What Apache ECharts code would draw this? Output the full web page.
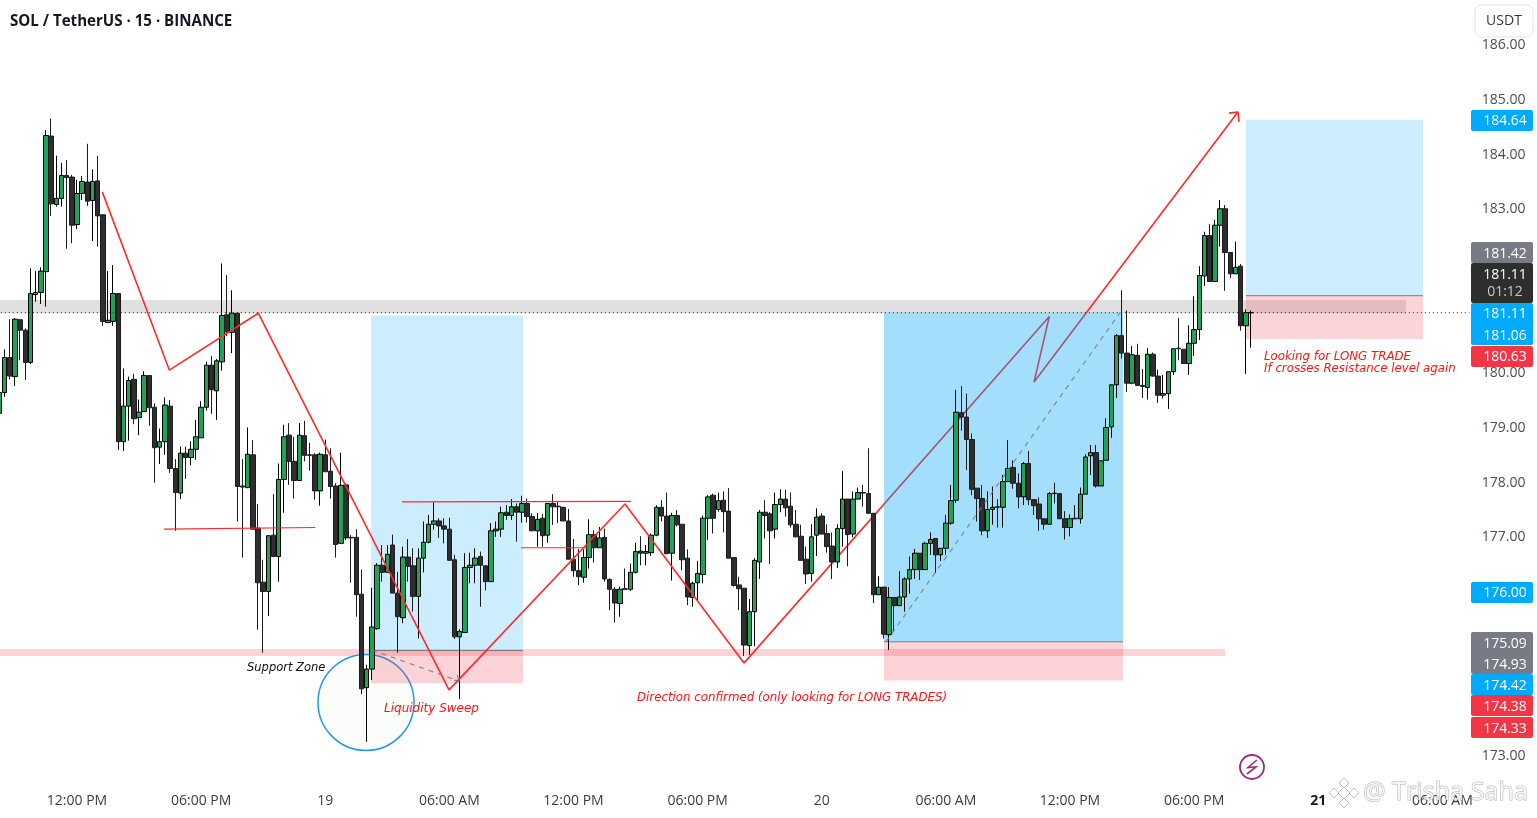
<!DOCTYPE html>
<html><head><meta charset="utf-8">
<style>html,body{margin:0;padding:0;background:#fff}#c{width:1537px;height:818px}</style>
<script src="https://cdn.jsdelivr.net/npm/echarts@6/dist/echarts.min.js"></script>
</head><body><div id="c"></div>
<script>
const slotCount = 285;
const firstTickSlot = 15;
const slotsPerTick = 24;
const tickLabels = ['12:00 PM','06:00 PM','19','06:00 AM','12:00 PM','06:00 PM','20','06:00 AM','12:00 PM','06:00 PM','21','06:00 AM'];
const priceTicks = [186,185,184,183,180,179,178,177,173];

// open, close, low, high
const ohlc = [
[179.27,179.65,179.15,179.70],[179.65,180.29,179.57,180.44],[180.29,179.95,179.89,180.99],[179.94,180.99,179.77,181.01],[180.98,180.79,180.24,180.99],
[180.79,180.20,179.88,180.82],[180.20,181.46,180.17,181.92],[181.44,181.48,181.31,181.87],[181.48,181.87,181.27,181.94],[181.86,184.35,181.22,184.45],
[184.34,183.10,182.88,184.66],[183.09,183.20,183.05,183.98],[183.20,183.62,183.05,183.85],[183.62,183.58,182.28,183.90],[183.59,182.71,182.38,183.63],
[182.72,183.29,182.64,183.54],[183.29,183.51,183.17,183.61],[183.50,183.15,183.06,184.20],[183.16,183.51,182.42,183.73],[183.52,182.88,182.32,183.98],
[182.90,180.95,180.87,182.91],[180.93,180.97,180.93,181.87],[180.95,181.46,180.87,181.98],[181.46,178.75,178.60,181.46],[178.75,179.40,178.58,180.09],
[179.40,179.87,178.77,179.94],[179.89,179.17,179.07,179.99],[179.19,179.29,178.87,179.52],[179.30,179.96,179.30,180.04],[179.96,179.37,179.04,179.96],
[179.38,178.64,178.00,179.45],[178.65,178.75,178.34,178.99],[178.75,179.42,178.51,179.56],[179.40,178.26,178.18,179.51],[178.26,177.82,177.12,178.43],
[177.81,178.54,177.70,178.66],[178.54,178.46,178.07,178.66],[178.46,178.61,178.32,178.76],[178.61,178.84,178.42,179.15],[178.82,179.38,178.82,179.49],
[179.38,180.15,179.32,180.21],[180.15,179.70,179.26,180.32],[179.68,180.23,179.15,180.26],[180.21,181.06,180.05,182.01],[181.07,180.76,180.68,181.80],
[180.75,181.10,180.37,181.52],[181.10,177.93,177.29,181.10],[177.94,177.92,176.63,178.43],[177.91,178.52,177.90,179.01],[178.51,177.15,177.15,178.78],
[177.17,176.17,175.31,177.61],[176.18,176.01,174.89,176.59],[176.01,177.03,175.56,177.04],[177.04,176.65,176.65,177.79],[176.65,178.06,176.19,178.35],
[178.06,178.84,177.45,179.06],[178.87,178.39,177.96,179.09],[178.39,178.04,177.71,178.84],[178.04,178.87,178.04,179.09],[178.86,178.50,178.39,179.13],
[178.51,178.50,178.22,178.73],[178.51,177.85,177.69,178.54],[177.85,178.52,177.58,178.55],[178.51,178.20,178.20,178.79],[178.21,177.93,177.71,178.63],
[177.94,176.87,176.63,177.99],[176.89,177.95,176.88,178.55],[177.96,176.99,176.95,177.99],[177.00,176.99,176.17,177.04],[177.00,175.95,175.55,177.15],
[175.96,174.23,174.13,176.41],[174.25,174.59,173.26,174.67],[174.59,175.36,174.39,176.08],[175.33,176.49,175.31,176.53],[176.49,176.36,176.19,176.86],
[176.36,176.69,176.36,176.86],[176.86,175.98,175.98,177.05],[175.98,175.55,174.89,176.37],[175.53,176.64,175.43,176.83],[176.64,176.47,176.19,176.97],
[176.48,175.92,175.64,176.80],[175.92,176.62,175.15,176.80],[176.62,176.91,176.36,177.29],[176.91,177.24,176.89,177.41],[177.24,177.30,177.14,177.64],
[177.30,177.21,176.99,177.35],[177.21,177.15,176.89,177.35],[177.15,176.58,176.58,177.36],[176.59,175.18,175.14,176.68],[175.18,175.28,174.04,175.32],
[175.26,176.45,175.26,176.71],[176.45,176.49,176.16,176.72],[176.49,176.62,176.16,176.80],[176.65,176.49,175.73,176.74],[176.48,176.19,176.03,176.48],
[176.19,177.12,176.19,177.26],[177.12,177.15,177.01,177.29],[177.15,177.45,177.01,177.56],[177.46,177.40,177.32,177.59],[177.40,177.56,177.32,177.70],
[177.56,177.46,176.92,177.62],[177.46,177.62,177.27,177.76],[177.62,177.38,177.27,177.71],[177.38,177.12,177.12,177.44],[177.12,177.33,176.83,177.44],
[177.35,177.03,176.83,177.43],[177.04,177.62,176.90,177.63],[177.62,177.56,177.23,177.79],[177.57,177.56,177.26,177.65],[177.55,177.30,177.30,177.56],
[177.30,176.60,176.60,177.52],[176.60,176.39,176.28,176.97],[176.39,176.28,176.13,176.79],[176.27,176.63,176.17,176.78],[176.63,177.05,176.43,177.33],
[177.05,176.81,176.54,177.13],[176.81,176.99,176.81,177.19],[177.00,176.24,176.19,177.16],[176.23,176.05,175.67,176.25],[176.05,175.80,175.44,176.09],
[175.79,176.05,175.55,176.10],[176.06,176.05,176.05,176.43],[176.05,176.36,176.02,176.52],[176.36,176.74,176.34,176.90],[176.75,176.71,176.49,177.02],
[176.71,176.74,176.49,176.86],[176.72,177.04,176.66,177.07],[177.04,177.55,177.02,177.59],[177.55,177.39,177.29,177.68],[177.39,176.70,176.70,177.82],
[176.71,177.40,176.21,177.45],[177.40,177.23,177.20,177.50],[177.24,176.59,176.40,177.24],[176.62,175.91,175.76,176.78],[175.90,176.16,175.73,176.19],
[176.17,176.34,175.84,176.57],[176.32,177.35,176.16,177.40],[177.35,177.74,176.95,177.77],[177.77,177.35,177.07,177.80],[177.51,177.67,177.47,177.82],
[177.68,177.47,177.09,177.84],[177.48,176.62,176.62,177.90],[176.63,176.12,176.10,176.63],[176.13,176.06,175.67,176.28],[176.07,175.03,174.83,176.07],
[175.02,175.64,174.85,175.87],[175.64,176.58,175.01,176.62],[176.55,177.46,176.24,177.50],[177.46,177.40,176.98,177.68],[177.43,177.12,176.51,177.46],
[177.15,177.60,176.98,177.82],[177.60,177.70,177.46,177.88],[177.70,177.54,177.38,177.87],[177.57,177.23,177.18,177.82],[177.24,177.01,177.00,177.50],
[177.02,176.58,176.58,177.23],[176.60,176.33,176.15,176.83],[176.34,177.01,176.19,177.24],[177.04,177.37,176.66,177.53],[177.39,177.06,177.06,177.44],
[177.07,176.83,176.72,177.24],[176.84,176.55,176.24,177.09],[176.55,177.16,176.44,177.24],[177.16,177.70,176.83,178.21],[177.70,177.05,176.47,177.70],
[177.06,177.70,177.00,177.84],[177.70,177.82,177.70,177.91],[177.82,177.81,177.56,177.96],[177.80,177.44,177.44,178.63],[177.44,175.95,175.80,177.44],
[175.95,176.09,175.95,176.29],[176.09,175.23,175.15,176.09],[175.22,175.90,174.94,176.09],[175.90,175.75,175.27,175.90],[175.75,175.91,175.75,176.38],
[175.91,176.24,175.64,176.27],[176.24,176.41,175.97,176.65],[176.41,176.71,176.24,176.79],[176.71,176.41,176.22,176.71],[176.41,176.89,176.41,176.92],
[176.89,176.96,176.68,177.09],[176.98,176.68,176.35,176.98],[176.68,176.80,176.57,176.80],[176.80,177.26,176.68,177.41],[177.26,177.67,177.23,177.96],
[177.68,179.29,177.63,179.70],[179.28,179.20,178.95,179.77],[179.20,178.79,178.23,179.63],[178.79,177.88,177.77,178.90],[177.90,177.71,177.29,177.90],
[177.71,177.12,177.04,177.96],[177.12,177.51,176.99,177.84],[177.51,177.55,177.23,177.93],[177.56,177.55,177.18,177.70],[177.55,178.02,177.18,178.14],
[178.02,178.26,178.02,178.78],[178.28,177.99,177.89,178.41],[177.99,177.74,177.53,178.17],[177.74,178.35,177.59,178.38],[178.35,177.69,177.59,178.58],
[177.69,177.58,177.41,177.69],[177.61,177.34,177.12,177.73],[177.34,177.24,177.14,177.34],[177.24,177.80,177.24,177.83],[177.81,177.80,177.62,178.00],
[177.80,177.34,177.34,177.80],[177.34,177.18,176.96,177.48],[177.18,177.34,177.02,177.42],[177.35,177.34,177.33,177.59],[177.34,177.79,177.25,177.91],
[177.79,178.47,177.79,178.52],[178.49,178.55,178.14,178.69],[178.55,177.94,177.91,178.69],[177.94,178.40,177.94,178.40],[178.41,179.01,178.41,179.18],
[179.02,179.79,178.82,179.79],[179.79,180.69,179.55,180.72],[180.69,180.37,180.27,181.52],[180.37,179.82,179.66,181.15],[179.82,180.34,179.80,180.50],
[180.33,179.78,179.77,180.54],[179.78,179.76,179.55,180.08],[179.74,180.35,179.52,180.46],[180.35,179.95,179.94,180.38],[179.95,179.60,179.46,180.07],
[179.60,179.63,179.54,179.97],[179.63,180.03,179.35,180.03],[180.03,180.45,179.97,180.45],[180.46,180.45,180.24,181.01],[180.44,180.18,180.18,180.44],
[180.18,180.55,179.97,180.88],[180.55,180.80,180.32,181.41],[180.80,181.79,180.61,181.96],[181.78,182.52,181.60,182.59],[182.52,181.68,181.68,182.73],
[181.68,182.71,181.68,182.81],[182.71,183.01,182.32,183.17],[183.01,182.21,181.51,183.08],[182.21,181.82,181.74,182.21],[181.82,181.94,181.82,182.41],
[181.96,180.87,180.78,182.00],[180.87,181.11,179.99,181.17],[181.11,181.11,180.47,181.15]
];

// drawing tools, as [slot, price]
const trendFront = [[19.89,183.32],[32.85,180.06],[50.05,181.10],[86.93,174.21],[120.95,177.61],[143.96,174.70]];
const trendBack = [[143.96,174.70],[202.99,181.04],[200.04,179.84],[239.47,184.78]];
const arrowHead = [[237.74,184.76],[239.47,184.78],[239.67,184.60]];
const levelLines = [
  [[31.82,177.15],[61.02,177.18]],
  [[77.84,177.65],[122.12,177.66]],
  [[100.85,176.81],[113.61,176.81]]
];
const dashedMoves = [
  [[72.04,174.94],[88.86,174.37]],
  [[171.42,175.09],[216.66,181.11]]
];
const dashedArrow = [[87.9,174.39],[88.86,174.37],[88.5,174.48]];
const lastPriceLine = [[-0.5,181.11],[284.2,181.11]];
const greyBand = [[-0.5,271.96,181.34,181.10]];
const supportBand = [[-0.5,236.96,174.96,174.83]];
const sweepCircle = [[70.88,173.98]];
// slotFrom, slotTo, priceTop, priceBottom
const targetBoxes = [[71.84,101.23,181.06,174.93],[241.03,275.25,184.64,181.42]];
const filledTargetBox = [[171.03,217.24,181.11,175.09]];
const stopBoxes = [[71.84,101.23,174.93,174.33],[171.03,217.24,175.09,174.38],[241.03,275.25,181.42,180.63]];
const entryLines = [
  [[71.84,174.93],[101.23,174.93]],
  [[171.03,175.09],[217.24,175.09]],
  [[241.03,181.42],[275.25,181.42]]
];

const UI = '"Open Sans","Noto Sans",sans-serif';
const NOTE = '"DejaVu Sans",sans-serif';
const labelBySlot = {};
tickLabels.forEach((t,i)=>{labelBySlot[firstTickSlot+i*slotsPerTick]=t;});
const categories = Array.from({length:slotCount},(_,i)=>String(i));

const OV = {xAxisIndex:1,yAxisIndex:0,silent:true,animation:false};
const line = (data,color,z,width,type)=>Object.assign({type:'line',data,symbol:'none',z,lineStyle:{color,width:width||1.6,type:type||'solid'},itemStyle:{color},emphasis:{disabled:true}},OV);
const boxes = (data,fill,z)=>Object.assign({type:'custom',data,z,renderItem:(p,api)=>{
  const a=api.coord([api.value(0),api.value(2)]),b=api.coord([api.value(1),api.value(3)]);
  return {type:'rect',shape:{x:a[0],y:a[1],width:b[0]-a[0],height:b[1]-a[1]},style:{fill}};
}},OV);

const RED='#ff2a2a', NOTERED='#ff1414', GREY='#787b86', BLUE='#00aaff', TAGRED='#f23645', BLACK='#2e2e2e';
const g=[];
const note=(text,x,y,color,size)=>g.push({type:'text',z:100,silent:true,style:{x,y,text,fill:color,font:'italic '+(size||11.8)+'px '+NOTE,textAlign:'left',textVerticalAlign:'middle'}});
note('Support Zone',247,668,'#111',11.5);
note('Liquidity Sweep',384,709,NOTERED,12);
note('Direction confirmed (only looking for LONG TRADES)',637,698,NOTERED);
note('Looking for LONG TRADE',1264,357,NOTERED);
note('If crosses Resistance level again',1264,369,NOTERED);
g.push({type:'text',z:100,style:{x:10,y:21.5,text:'SOL / TetherUS · 15 · BINANCE',fill:'#131722',font:'bold 15.1px '+UI,textVerticalAlign:'middle'}});
g.push({type:'rect',z:90,shape:{x:1471,y:0,width:66,height:39},style:{fill:'#fff'}});
g.push({type:'rect',z:91,shape:{x:1475,y:5,width:58,height:32,r:6},style:{fill:'#fff',stroke:'#e9e4e6',lineWidth:1}});
g.push({type:'text',z:92,style:{x:1504,y:21,text:'USDT',fill:'#363a45',font:'14px '+UI,textAlign:'center',textVerticalAlign:'middle'}});
const tag=(y0,y1,fill,rows)=>{
  g.push({type:'rect',z:95,shape:{x:1471,y:y0,width:62,height:y1-y0,r:2},style:{fill}});
  rows.forEach(r=>g.push({type:'text',z:96,style:{x:1505,y:r[1]+1,text:r[0],fill:r[2]||'#fff',font:'14px '+UI,textAlign:'center',textVerticalAlign:'middle'}}));
};
tag(110,131,BLUE,[['184.64',120.5]]);
tag(242,263,GREY,[['181.42',253]]);
tag(263,303,BLACK,[['181.11',274],['01:12',291,'#c8c8c8']]);
tag(303,345,BLUE,[['181.11',313],['181.06',335]]);
tag(346,367,TAGRED,[['180.63',356]]);
tag(582,603,BLUE,[['176.00',592.5]]);
tag(632,674,GREY,[['175.09',643],['174.93',664]]);
tag(674,695,BLUE,[['174.42',685]]);
tag(695,716,TAGRED,[['174.38',706]]);
tag(717,738,TAGRED,[['174.33',728]]);
// replay icon
g.push({type:'circle',z:100,shape:{cx:1252,cy:767,r:12},style:{fill:'#fff',stroke:'#9c2a7e',lineWidth:1.8}});
g.push({type:'polyline',z:101,shape:{points:[[1257,760],[1248,767.5],[1256,767],[1247,774]]},style:{fill:'none',stroke:'#9c2a7e',lineWidth:1.6}});
// watermark
[[1344,783],[1334,793],[1344,793],[1354,793],[1344,803]].forEach(c=>{
  const r=(c[0]===1344&&c[1]===793)?6:5;
  g.push({type:'polygon',z:110,shape:{points:[[c[0],c[1]-r],[c[0]+r,c[1]],[c[0],c[1]+r],[c[0]-r,c[1]]]},style:{fill:'rgba(255,255,255,.8)',stroke:'rgba(150,150,150,.55)',lineWidth:1}});
});
g.push({type:'text',z:110,style:{x:1363,y:793,text:'@ Trisha Saha',fill:'rgba(255,255,255,.75)',stroke:'rgba(130,130,130,.6)',lineWidth:1,font:'25.2px '+UI,textVerticalAlign:'middle'}});

const series=[
  boxes(greyBand,'#e0e0e0',1),
  boxes(supportBand,'rgba(242,54,69,.22)',1),
  Object.assign({type:'scatter',data:sweepCircle,symbol:'circle',symbolSize:96,z:2,itemStyle:{color:'#fbfdfb',borderColor:'#2196f3',borderWidth:1.5,opacity:1}},OV),
  line(trendBack,RED,3),
  line(arrowHead,RED,3),
  boxes(targetBoxes,'rgba(0,164,250,.2)',4),
  boxes(filledTargetBox,'rgba(0,164,250,.36)',4),
  boxes(stopBoxes,'rgba(242,54,69,.22)',4)
];
entryLines.forEach(l=>series.push(line(l,GREY,4,1)));
series.push({type:'candlestick',xAxisIndex:0,yAxisIndex:0,data:ohlc,z:5,barWidth:5,silent:true,animation:false,
  itemStyle:{color:'#1fa35a',color0:BLACK,borderColor:'#000',borderColor0:'#1c1c1c',borderWidth:1}});
series.push(line(trendFront,RED,6));
levelLines.forEach(l=>series.push(line(l,RED,6,1.2)));
dashedMoves.forEach(l=>series.push(line(l,'rgba(120,123,134,.85)',6,1.2,[5,5])));
series.push(line(dashedArrow,'rgba(120,123,134,.85)',6,1.2));
series.push(line(lastPriceLine,'#222',6,1,[1,3]));

const chart=echarts.init(document.getElementById('c'),null,{renderer:'canvas'});
chart.setOption({
  animation:false,backgroundColor:'#fff',tooltip:{show:false},
  grid:{left:-3.17,width:1474.02,top:-9.34,height:820.05,containLabel:false,outerBoundsMode:'none'},
  xAxis:[
    {type:'category',data:categories,boundaryGap:true,axisLine:{show:false},axisTick:{show:false},splitLine:{show:false},
     axisLabel:{interval:0,margin:-17,hideOverlap:false,fontFamily:UI,fontSize:14,color:'#3a3d47',
       formatter:(v,i)=>{const t=labelBySlot[i];if(!t)return '';return t==='21'?'{day|21}':t;},
       rich:{day:{fontFamily:UI,fontSize:14,fontWeight:'bold',color:'#131722'}}}},
    {type:'value',min:-0.5,max:284.5,show:false,splitLine:{show:false}}
  ],
  yAxis:[{type:'value',position:'right',min:172,max:187,interval:1,scale:true,
    axisLine:{show:false},axisTick:{show:false},splitLine:{show:false},
    axisLabel:{margin:11,padding:[2,0,0,0],fontFamily:UI,fontSize:14,color:'#4a4e59',align:'left',
      formatter:v=>priceTicks.includes(v)?v.toFixed(2):''}}],
  graphic:g,
  series
});
</script></body></html>
